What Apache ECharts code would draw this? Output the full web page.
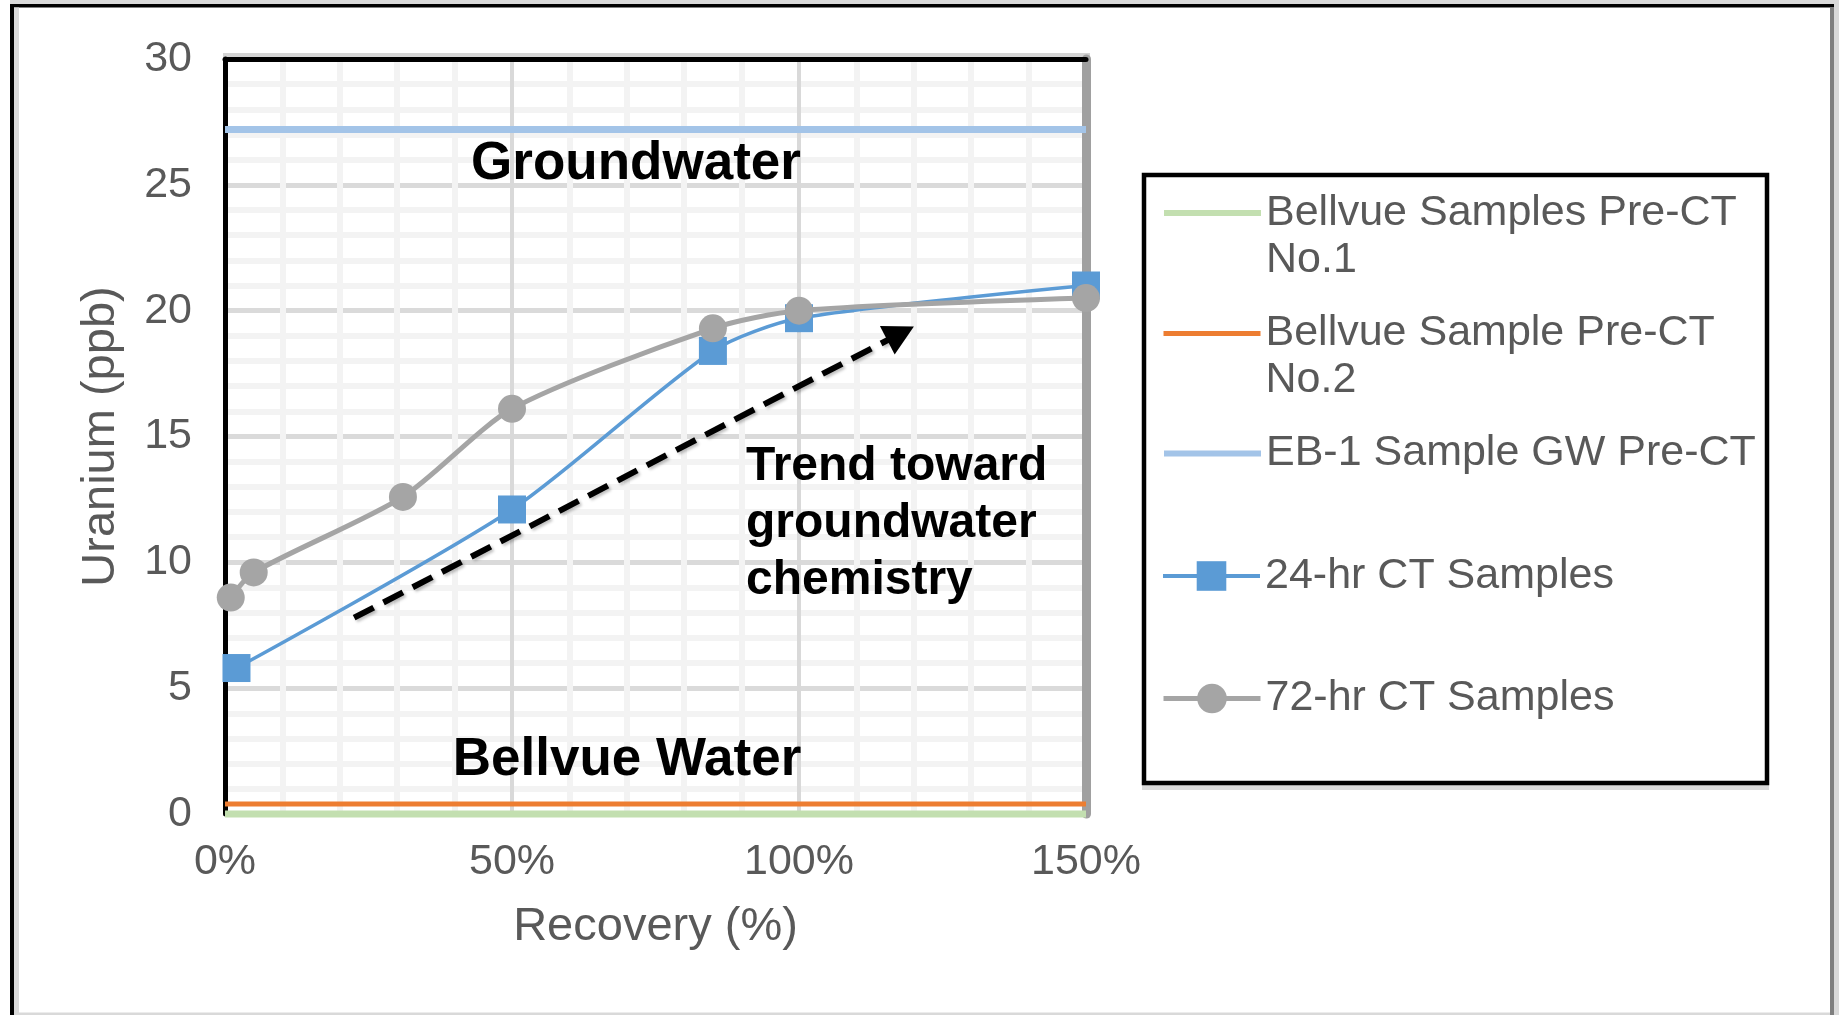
<!DOCTYPE html>
<html>
<head>
<meta charset="utf-8">
<script src="https://cdn.jsdelivr.net/npm/echarts@6/dist/echarts.min.js"></script>
<style>
html,body{margin:0;padding:0;background:#fff;}
#chart{width:1841px;height:1015px;}
</style>
</head>
<body>
<div id="chart"></div>
<script>
// ---------------- data ----------------
const seriesNames = [
  'Bellvue Samples Pre-CT No.1',
  'Bellvue Sample Pre-CT No.2',
  'EB-1 Sample GW Pre-CT',
  '24-hr CT Samples',
  '72-hr CT Samples'
];
const levelRange = [0, 150];          // recovery % span of the reference lines
const bellvue1Level = 0.0;            // ppb
const bellvue2Level = 0.4;            // ppb
const eb1Level = 27.2;                // ppb
const recovery24 = [2, 50, 85, 100, 150];
const uranium24  = [5.8, 12.1, 18.4, 19.7, 21.0];
const recovery72 = [1, 5, 31, 50, 85, 100, 150];
const uranium72  = [8.6, 9.6, 12.6, 16.1, 19.3, 20.0, 20.5];
const yTickValues = [0, 5, 10, 15, 20, 25, 30];
const xTickValues = [0, 50, 100, 150];
const xTickLabels = ['0%', '50%', '100%', '150%'];
const trendArrow = [[22.5, 7.8], [117.7, 19.1]];   // [recovery %, ppb]
const groundwaterLabel = 'Groundwater';
const bellvueLabel = 'Bellvue Water';
const trendLabel = ['Trend toward', 'groundwater', 'chemistry'];
const xAxisTitle = 'Recovery (%)';
const yAxisTitle = 'Uranium (ppb)';

// ---------------- styling ----------------
const FONT = '"Liberation Sans", Arial, Helvetica, sans-serif';
const TXT = '#595959';
const colors = ['#c3dfb0', '#ED7D31', '#a3c4e8', '#5B9BD5', '#A5A5A5'];
const lineWidths = [7, 5, 7, 3.5, 5];
const legendLineWidths = [6, 5, 6, 4, 5];

const chart = echarts.init(document.getElementById('chart'), null, {renderer: 'canvas'});

function levelSeries(i, level) {
  return {
    name: seriesNames[i], type: 'line', symbol: 'none', clip: false, silent: true,
    data: levelRange.map(x => [x, level]),
    lineStyle: {color: colors[i], width: lineWidths[i]},
    itemStyle: {color: colors[i]},
    z: 3
  };
}

const legendTopPx = [142.5, 263, 430, 552.5, 675];
const markerSeries = [false, false, false, true, true];
const legends = seriesNames.map((n, i) => {
  const twoLine = n.indexOf(' No.') > -1;
  return {
    data: [n], orient: 'vertical', left: 1161, top: legendTopPx[i], padding: 0,
    itemWidth: 97, itemHeight: markerSeries[i] ? 37 : 4, selectedMode: false,
    lineStyle: {width: legendLineWidths[i], color: colors[i]},
    formatter: name => twoLine ? ' \n' + name.replace(' No.', '\nNo.') : name,
    textStyle: {fontFamily: FONT, fontSize: 43, color: TXT, lineHeight: 47}
  };
});

const option = {
  animation: false,
  backgroundColor: '#fff',
  grid: {left: 225, right: 755, top: 59, bottom: 201, containLabel: false},
  legend: legends,
  xAxis: [{
    type: 'value', min: 0, max: 150, interval: 50, position: 'bottom',
    name: xAxisTitle, nameLocation: 'middle', nameGap: 90,
    nameTextStyle: {fontFamily: FONT, fontSize: 47, color: TXT},
    axisLine: {show: false, onZero: false},
    axisTick: {show: false},
    axisLabel: {
      fontFamily: FONT, fontSize: 43, color: TXT, margin: 27,
      formatter: v => xTickLabels[xTickValues.indexOf(v)] || ''
    },
    splitLine: {show: true, lineStyle: {color: '#d9d9d9', width: 4}},
    minorTick: {show: false, splitNumber: 5},
    minorSplitLine: {show: true, lineStyle: {color: '#f3f3f3', width: 6}}
  }, {
    type: 'value', min: 0, max: 150, position: 'top',
    axisLine: {show: true, onZero: false, lineStyle: {color: '#000', width: 5}},
    axisTick: {show: false}, axisLabel: {show: false}, splitLine: {show: false}
  }],
  yAxis: [{
    type: 'value', min: 0, max: 30, interval: 5, position: 'left',
    name: yAxisTitle, nameLocation: 'middle', nameGap: 100,
    nameTextStyle: {fontFamily: FONT, fontSize: 47, color: TXT},
    axisLine: {show: true, onZero: false, lineStyle: {color: '#000', width: 5}},
    axisTick: {show: false},
    axisLabel: {
      fontFamily: FONT, fontSize: 43, color: TXT, margin: 33,
      formatter: v => (yTickValues.indexOf(v) > -1 ? String(v) : '')
    },
    splitLine: {show: true, lineStyle: {color: '#dadada', width: 5}},
    minorTick: {show: false, splitNumber: 5},
    minorSplitLine: {show: true, lineStyle: {color: '#f3f3f3', width: 6}}
  }, {
    type: 'value', min: 0, max: 30, position: 'right',
    axisLine: {show: true, onZero: false, lineStyle: {color: '#a0a0a0', width: 9}},
    axisTick: {show: false}, axisLabel: {show: false}, splitLine: {show: false}
  }],
  series: [
    levelSeries(0, bellvue1Level),
    levelSeries(1, bellvue2Level),
    levelSeries(2, eb1Level),
    {
      name: seriesNames[3], type: 'line', smooth: 0.25, clip: false,
      data: recovery24.map((x, k) => [x, uranium24[k]]),
      symbol: 'rect', symbolSize: 28,
      lineStyle: {color: colors[3], width: lineWidths[3]},
      itemStyle: {color: colors[3]},
      z: 4,
      markLine: {
        silent: true, animation: false,
        symbol: ['none', 'triangle'], symbolSize: [32, 30],
        lineStyle: {color: '#000', width: 6, type: [22, 11],
                    shadowColor: 'rgba(0,0,0,0.25)', shadowBlur: 3, shadowOffsetX: 2, shadowOffsetY: 2},
        itemStyle: {color: '#000'},
        label: {show: false},
        emphasis: {disabled: true},
        data: [[{coord: trendArrow[0]}, {coord: trendArrow[1]}]]
      }
    },
    {
      name: seriesNames[4], type: 'line', smooth: 0.25, clip: false,
      data: recovery72.map((x, k) => [x, uranium72[k]]),
      symbol: 'circle', symbolSize: 28,
      lineStyle: {color: colors[4], width: lineWidths[4]},
      itemStyle: {color: colors[4]},
      z: 5
    }
  ],
  graphic: [
    // outer frame
    {type: 'rect', silent: true, z: -1, shape: {x: 10, y: 0, width: 1829, height: 4}, style: {fill: '#d9d9d9'}},
    {type: 'rect', silent: true, z: -1, shape: {x: 10, y: 4, width: 1824, height: 3.5}, style: {fill: '#000'}},
    {type: 'rect', silent: true, z: -1, shape: {x: 10, y: 4, width: 4, height: 1011}, style: {fill: '#000'}},
    {type: 'rect', silent: true, z: -1, shape: {x: 14, y: 7.5, width: 5, height: 1006}, style: {fill: '#d9d9d9'}},
    {type: 'rect', silent: true, z: -1, shape: {x: 1830, y: 7, width: 4, height: 1008}, style: {fill: '#7f7f7f'}},
    {type: 'rect', silent: true, z: -1, shape: {x: 1834, y: 4, width: 5, height: 1011}, style: {fill: '#d9d9d9'}},
    {type: 'rect', silent: true, z: -1, shape: {x: 14, y: 1012.5, width: 1816, height: 2.5}, style: {fill: '#d9d9d9'}},
    // plot area shadow above the top border
    {type: 'rect', silent: true, z: -1, shape: {x: 223, y: 53, width: 867, height: 4}, style: {fill: '#d4d4d4'}},
    // legend box
    {type: 'rect', silent: true, z: -1, shape: {x: 1142, y: 785, width: 627, height: 5}, style: {fill: '#d9d9d9'}},
    {type: 'rect', silent: true, z: -1, shape: {x: 1144, y: 175, width: 623, height: 608},
     style: {fill: 'none', stroke: '#000', lineWidth: 4.5}},
    // annotations
    {type: 'text', silent: true, z: 100, x: 636, y: 164,
     style: {text: groundwaterLabel, fontFamily: FONT, fontSize: 53, fontWeight: 'bold', fill: '#000',
             align: 'center', verticalAlign: 'middle'}},
    {type: 'text', silent: true, z: 100, x: 627, y: 760,
     style: {text: bellvueLabel, fontFamily: FONT, fontSize: 53, fontWeight: 'bold', fill: '#000',
             align: 'center', verticalAlign: 'middle'}},
    {type: 'text', silent: true, z: 100, x: 746, y: 523.4,
     style: {text: trendLabel.join('\n'), fontFamily: FONT, fontSize: 48, fontWeight: 'bold', fill: '#000',
             lineHeight: 57, align: 'left', verticalAlign: 'middle'}}
  ]
};
chart.setOption(option);
</script>
</body>
</html>
